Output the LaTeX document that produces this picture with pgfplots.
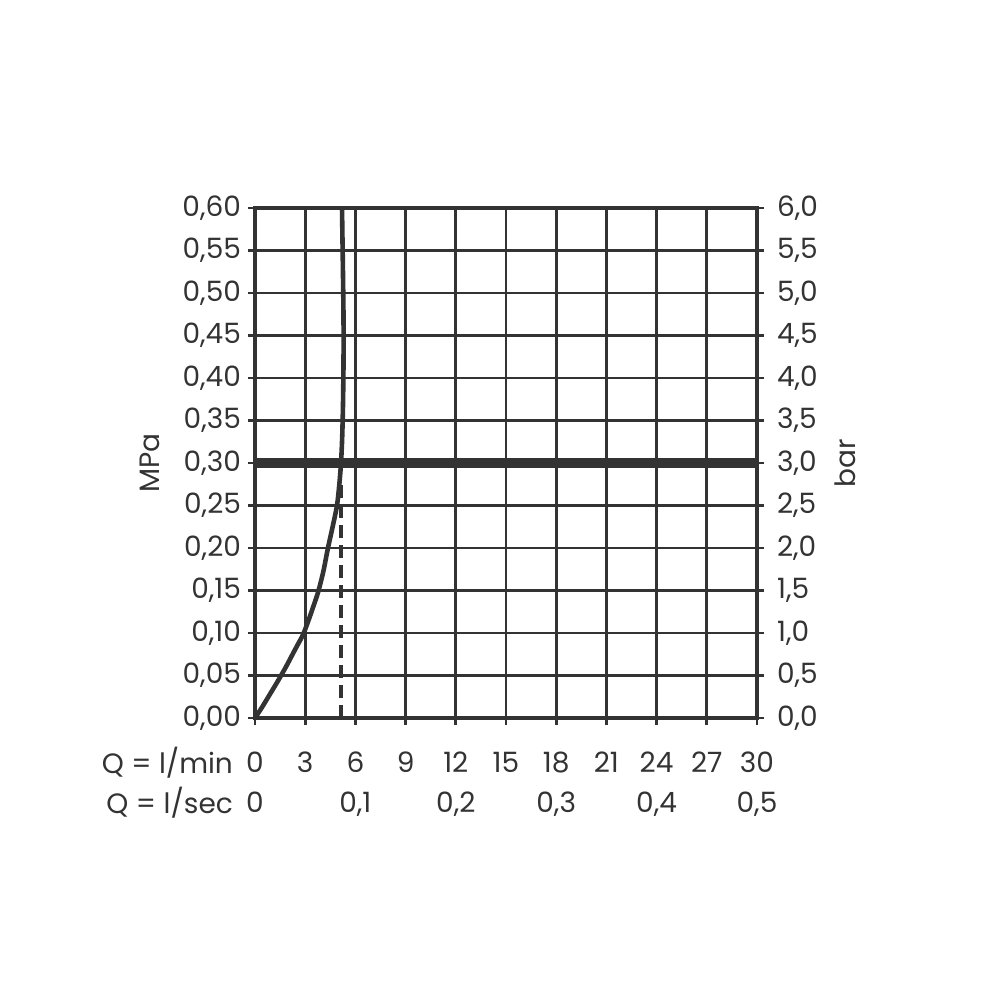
\documentclass[border=0pt]{standalone}
\usepackage{fontspec}
\setmainfont{Poppins}
\usepackage{pgfplots}
\pgfplotsset{compat=1.18}
\definecolor{ink}{HTML}{333333}

\begin{document}
\begin{tikzpicture}[x=1pt,y=1pt]
\useasboundingbox (-127.5,-141) rectangle (372.5,359);
\pgfplotsset{
  every axis/.append style={
    scale only axis, width=251pt, height=255pt,
    at={(0,0)}, anchor=south west,
    axis line style={ink, line width=1.8pt},
    tick style={ink, line width=1.4pt},
    tick align=outside, major tick length=3.5pt,
    /pgf/number format/assume math mode=true,
    tick label style={font=\fontsize{14}{20}\selectfont, text=ink},
  }
}
% pressure in MPa, flow in l/min
\begin{axis}[
    xmin=0, xmax=30, ymin=0, ymax=0.6,
    xtick={0,3,6,9,12,15,18,21,24,27,30},
    xticklabels={{0\\0},{3},{6\\0,1},{9},{12\\0,2},{15},{18\\0,3},{21},{24\\0,4},{27},{30\\0,5}},
    xticklabel style={align=center, anchor=north, yshift=-10pt},
    ytick={0,0.05,0.1,0.15,0.2,0.25,0.3,0.35,0.4,0.45,0.5,0.55,0.6},
    yticklabel style={/pgf/number format/.cd, fixed, fixed zerofill, precision=2, use comma},
    xtick pos=bottom, ytick pos=left,
    grid=major, grid style={ink, line width=1.4pt},
    ]
    % 3 bar line
    \addplot[ink, line width=5pt] coordinates {(0,0.3) (30,0.3)};
    % reading at 3 bar
    \addplot[ink, line width=1.8pt, dash pattern=on 6.5pt off 3.5pt] coordinates {(5.14,0) (5.14,0.28)};
    % flow curve
    \addplot[ink, line width=2.3pt, smooth] coordinates {
        (0,0) (0.4,0.012) (0.8,0.025) (1.2,0.038) (1.5,0.048) (1.9,0.062)
        (2.3,0.077) (2.6,0.088) (2.87,0.098) (3.2,0.115) (3.5,0.132)
        (3.77,0.148) (4.08,0.172) (4.36,0.20) (4.64,0.225) (4.9,0.25)
        (5.04,0.275) (5.14,0.30) (5.21,0.33) (5.26,0.37) (5.29,0.42)
        (5.29,0.47) (5.26,0.52) (5.23,0.56) (5.2,0.60)
    };
\end{axis}
% same pressure in bar
\begin{axis}[
    xmin=0, xmax=1, ymin=0, ymax=6,
    axis x line=none, axis y line*=right,
    ytick={0,0.5,1,1.5,2,2.5,3,3.5,4,4.5,5,5.5,6},
    yticklabel style={xshift=3pt, /pgf/number format/.cd, fixed, fixed zerofill, precision=1, use comma},
    ]
\end{axis}
\node[rotate=90, font=\fontsize{14}{16}\selectfont, text=ink] at (-52.5,127.5) {MPa};
\node[rotate=90, font=\fontsize{14}{16}\selectfont, text=ink] at (295,127.5) {bar};
\node[anchor=east, font=\fontsize{14}{16}\selectfont, text=ink] at (-7.5,-22.5) {Q = l/min};
\node[anchor=east, font=\fontsize{14}{16}\selectfont, text=ink] at (-7.5,-42.5) {Q = l/sec};
\end{tikzpicture}
\end{document}
